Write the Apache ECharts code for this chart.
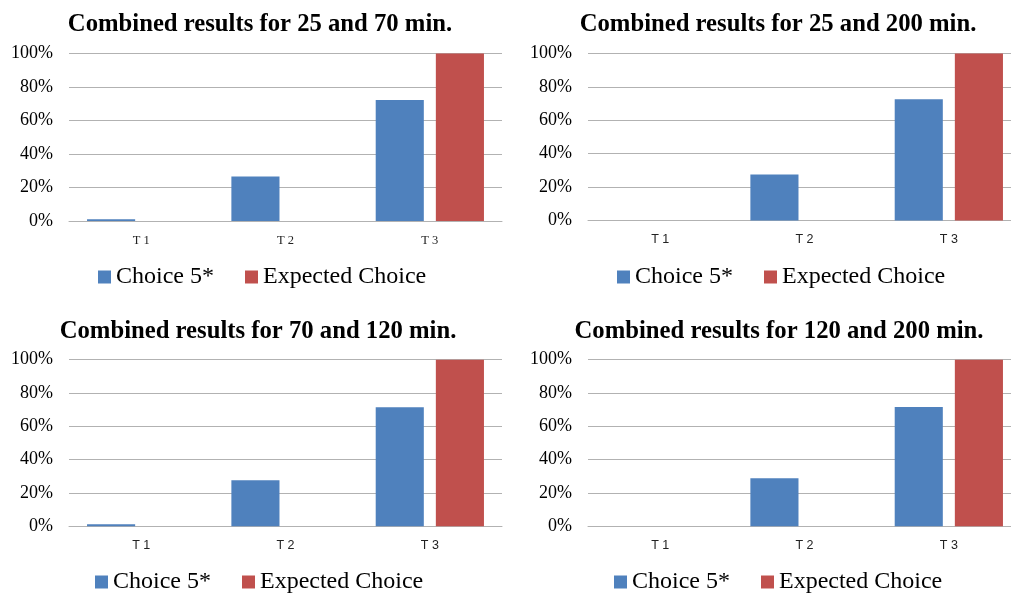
<!DOCTYPE html>
<html>
<head>
<meta charset="utf-8">
<script src="https://cdn.jsdelivr.net/npm/echarts@6/dist/echarts.min.js"></script>
<style>html,body{margin:0;padding:0;background:#fff;}#c{width:1011px;height:595px;}</style>
</head>
<body>
<div id="c"></div>
<script>
const categories = ['T 1', 'T 2', 'T 3'];
const seriesNames = ['Choice 5*', 'Expected Choice'];
const titles = [
  'Combined results for 25 and 70 min.',
  'Combined results for 25 and 200 min.',
  'Combined results for 70 and 120 min.',
  'Combined results for 120 and 200 min.'
];
const choice_25_70 = [0.01, 0.265, 0.723];
const choice_25_200 = [0, 0.276, 0.726];
const choice_70_120 = [0.012, 0.276, 0.714];
const choice_120_200 = [0, 0.288, 0.716];
const expected_25_70 = [0, 0, 1];
const expected_25_200 = [0, 0, 1];
const expected_70_120 = [0, 0, 1];
const expected_120_200 = [0, 0, 1];

const choiceData = [choice_25_70, choice_25_200, choice_70_120, choice_120_200];
const expectedData = [expected_25_70, expected_25_200, expected_70_120, expected_120_200];

const panels = [
  {left: 69, top: 53.5, height: 167.5, titleX: 260, titleY: 12, legLeft: 98, legTop: 265, xFont: 'Liberation Serif'},
  {left: 588, top: 53.5, height: 167, titleX: 778, titleY: 12, legLeft: 617, legTop: 265, xFont: 'Liberation Sans'},
  {left: 69, top: 359.7, height: 166.6, titleX: 258, titleY: 319, legLeft: 95, legTop: 570, xFont: 'Liberation Sans'},
  {left: 588, top: 359.7, height: 166.6, titleX: 779, titleY: 319, legLeft: 614, legTop: 570, xFont: 'Liberation Sans'}
];
const gridColor = '#b2b2b2';
const blue = '#4f81bd', red = '#c0504d';

const option = {
  backgroundColor: '#fff',
  animation: false,
  title: [], grid: [], xAxis: [], yAxis: [], legend: [], series: []
};
panels.forEach((p, i) => {
  option.title.push({
    text: titles[i], left: p.titleX, top: p.titleY, textAlign: 'center', padding: 0,
    textStyle: {fontFamily: 'Liberation Serif', fontWeight: 'bold', fontSize: 24.7, color: '#000'}
  });
  option.grid.push({left: p.left, top: p.top, width: 433, height: p.height, containLabel: false, outerBoundsMode: 'none'});
  option.xAxis.push({
    type: 'category', gridIndex: i, data: categories,
    axisTick: {show: false},
    axisLine: {lineStyle: {color: gridColor, width: 1}},
    axisLabel: {fontFamily: p.xFont, fontSize: 12.5, color: '#222', margin: 13}
  });
  option.yAxis.push({
    type: 'value', gridIndex: i, min: 0, max: 1, interval: 0.2,
    axisLine: {show: false}, axisTick: {show: false},
    splitLine: {lineStyle: {color: gridColor, width: 1}},
    axisLabel: {
      fontFamily: 'Liberation Serif', fontSize: 18, color: '#000', margin: 16,
      formatter: v => Math.round(v * 100) + '%'
    }
  });
  option.legend.push({
    data: seriesNames, left: p.legLeft, top: p.legTop, orient: 'horizontal', padding: 0,
    icon: 'rect', itemWidth: 13, itemHeight: 13, itemGap: 31,
    itemStyle: {borderWidth: 0},
    textStyle: {fontFamily: 'Liberation Serif', fontSize: 24, color: '#000'},
    selectedMode: false
  });
  option.series.push({
    name: seriesNames[0], type: 'bar', xAxisIndex: i, yAxisIndex: i,
    data: choiceData[i], barCategoryGap: '25%', barGap: '25%',
    itemStyle: {color: blue}
  });
  option.series.push({
    name: seriesNames[1], type: 'bar', xAxisIndex: i, yAxisIndex: i,
    data: expectedData[i], barCategoryGap: '25%', barGap: '25%',
    itemStyle: {color: red}
  });
});
const chart = echarts.init(document.getElementById('c'), null, {renderer: 'canvas'});
chart.setOption(option);
</script>
</body>
</html>
